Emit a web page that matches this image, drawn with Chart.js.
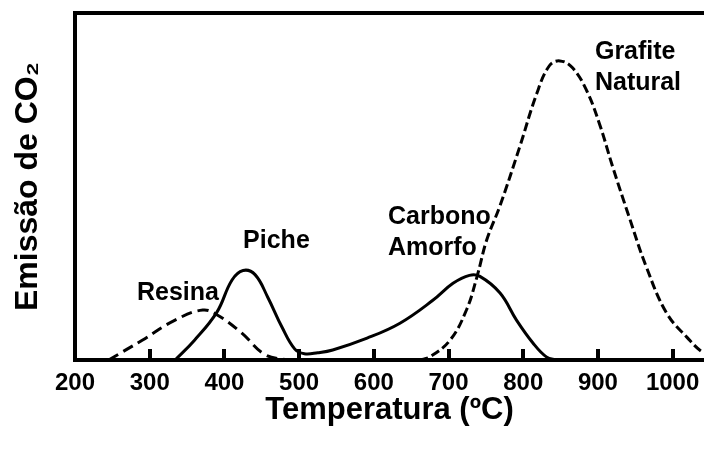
<!DOCTYPE html>
<html>
<head>
<meta charset="utf-8">
<script src="https://cdn.jsdelivr.net/npm/chart.js@4"></script>
<style>
  html, body { margin: 0; background: #fff; }
  #wrap { width: 704px; height: 452px; }
</style>
</head>
<body>
<div id="wrap"><canvas id="co2-chart" width="704" height="452"></canvas></div>
<script>
// temperatures (ºC) and CO2 emission (arbitrary units, 0-100)
const resinaT = [245, 290, 334, 371, 391, 423, 454, 483];
const resinaE = [0, 5.7, 11.5, 14.4, 12.9, 7.8, 1.6, 0];

// Piche peak followed by Carbono Amorfo, drawn as one solid curve
const solidT = [334, 360, 390, 410, 425, 441, 458, 477, 494, 507, 525, 545, 591, 635, 679, 706, 728, 742, 769, 791, 813, 831, 845];
const solidE = [0, 5.7, 13.8, 23.0, 25.8, 24.6, 18.1, 9.5, 3.2, 1.8, 2.1, 2.9, 6.3, 10.6, 17.2, 22.1, 24.4, 24.1, 19.3, 11.5, 4.9, 0.9, 0];

const grafiteT = [661, 675, 702, 724, 738, 751, 769, 795, 818, 835, 849, 866, 885, 902, 920, 942, 965, 992, 1019, 1042, 1065];
const grafiteE = [0, 0.9, 5.7, 14.4, 23.9, 34.5, 44.5, 61.2, 76.7, 84.8, 86.2, 84.2, 77.6, 68.1, 55.5, 41.1, 26.7, 13.5, 6.6, 2.0, 0.5];

const tickTemps = [300, 400, 500, 600, 700, 800, 900, 1000];

const peakNames = [['Resina'], ['Piche'], ['Carbono', 'Amorfo'], ['Grafite', 'Natural']];

const family = 'Liberation Sans, Arial, Helvetica, sans-serif';

function toPoints(xs, ys) {
  return xs.map((x, i) => ({ x: x, y: ys[i] }));
}

// where each peak name sits, in data units (left edge, middle of first line)
const notes = [
  { t: 283, e: 19.3 },
  { t: 425, e: 34.2 },
  { t: 619, e: 41.1 },
  { t: 896, e: 88.8 }
];

// peak names plus the short tick marks that point up into the plot
const overlay = {
  id: 'overlay',
  afterDraw(chart) {
    const { ctx, chartArea, scales: { x, y } } = chart;
    ctx.save();
    ctx.fillStyle = '#000';
    ctx.font = 'bold 25px ' + family;
    ctx.textAlign = 'left';
    ctx.textBaseline = 'middle';
    peakNames.forEach((lines, k) => {
      lines.forEach((line, i) => {
        ctx.fillText(line, x.getPixelForValue(notes[k].t), y.getPixelForValue(notes[k].e) + i * 31);
      });
    });
    ctx.fillStyle = '#000';
    for (let i = 0; i < tickTemps.length; i++) {
      const px = Math.round(x.getPixelForValue(tickTemps[i]));
      ctx.fillRect(px - 2, chartArea.bottom - 11, 4, 12);
    }
    ctx.restore();
  }
};

const ctx = document.getElementById('co2-chart').getContext('2d');
const chart = new Chart(ctx, {
  type: 'line',
  data: {
    datasets: [
      { label: 'Resina', data: toPoints(resinaT, resinaE), borderColor: '#000', borderDash: [11, 6] },
      { label: 'Piche / Carbono Amorfo', data: toPoints(solidT, solidE), borderColor: '#000' },
      { label: 'Grafite Natural', data: toPoints(grafiteT, grafiteE), borderColor: '#000', borderDash: [9, 4] }
    ]
  },
  options: {
    responsive: false,
    animation: false,
    layout: { padding: 0 },
    datasets: {
      line: {
        borderWidth: 3,
        pointRadius: 0,
        fill: false,
        tension: 0.4
      }
    },
    plugins: {
      legend: { display: false },
      tooltip: { enabled: false },
      colors: { enabled: false }
    },
    scales: {
      x: {
        type: 'linear',
        position: 'bottom',
        min: 200,
        max: 1042,
        ticks: {
          stepSize: 100,
          includeBounds: false,
          padding: 9,
          color: '#000',
          font: { family: family, size: 24, weight: 'bold' },
          callback: v => String(v)
        },
        grid: { display: false, drawTicks: false },
        border: { display: true, width: 4, color: '#000' },
        title: {
          display: true,
          text: 'Temperatura (ºC)',
          color: '#000',
          font: { family: family, size: 31, weight: 'bold' },
          padding: { top: 0, bottom: 23 }
        },
        afterFit(s) {
          s.height = 92;
          s.paddingLeft = 0;
          s.paddingRight = 0;
        }
      },
      x2: {
        type: 'linear',
        position: 'top',
        min: 200,
        max: 1042,
        ticks: { display: false },
        grid: { display: false, drawTicks: false },
        border: { display: true, width: 4, color: '#000' },
        afterFit(s) { s.height = 13; }
      },
      y: {
        min: 0,
        max: 100,
        ticks: { display: false },
        grid: { display: false, drawTicks: false },
        border: { display: true, width: 4, color: '#000' },
        title: {
          display: true,
          text: 'Emissão de CO₂',
          color: '#000',
          font: { family: family, size: 32, weight: 'bold' },
          padding: { top: 9, bottom: 0 }
        },
        afterFit(s) { s.width = 75; }
      }
    }
  },
  plugins: [overlay]
});
</script>
</body>
</html>
